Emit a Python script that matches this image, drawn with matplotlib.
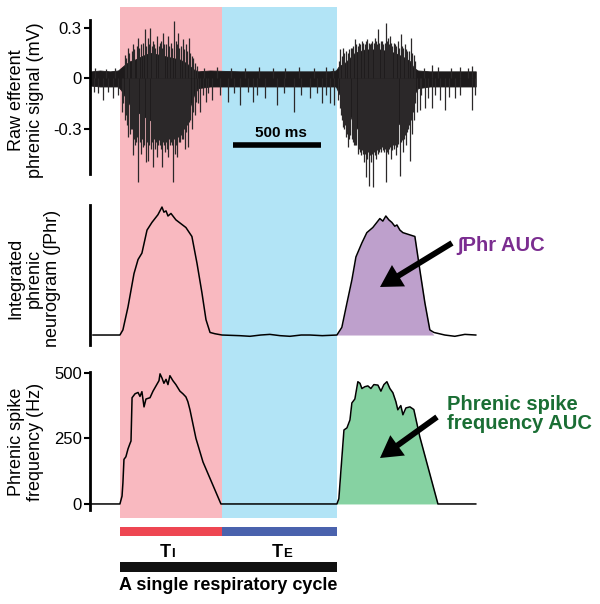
import matplotlib.pyplot as plt

plt.rcParams['font.family'] = ['Liberation Sans', 'DejaVu Sans']

# phases (ms)
insp_start = 170
insp_end = 750
exp_end = 1403
t_max = 2841

# integrated phrenic neurogram (arbitrary units)
int_t = [17, 170, 187, 216, 250, 273, 295, 324, 352, 386, 409, 420, 432, 443, 460, 488,
         545, 579, 608, 636, 659, 682, 710, 750, 850, 909, 970, 1022, 1080, 1136, 1200,
         1250, 1320, 1403, 1431, 1460, 1488, 1511, 1545, 1573, 1607, 1647, 1664, 1681,
         1698, 1715, 1732, 1744, 1761, 1778, 1846, 1874, 1903, 1931, 1954, 2016, 2073,
         2130, 2192]
int_v = [0.0, 0.0, 0.04, 0.22, 0.48, 0.59, 0.64, 0.82, 0.88, 0.94, 1.0, 0.96, 0.97,
         0.93, 0.95, 0.90, 0.84, 0.77, 0.56, 0.33, 0.12, 0.02, 0.01, 0.0, -0.005, -0.01,
         0.0, 0.005, -0.005, -0.01, 0.0, 0.0, -0.005, 0.0, 0.06, 0.25, 0.43, 0.61, 0.72,
         0.80, 0.84, 0.91, 0.89, 0.93, 0.90, 0.88, 0.85, 0.86, 0.82, 0.80, 0.77, 0.51,
         0.25, 0.04, 0.02, 0.0, -0.01, 0.005, 0.0]
int_fill_end = 1940

# phrenic spike frequency (Hz)
freq_t = [6, 170, 182, 187, 193, 204, 216, 227, 233, 239, 256, 273, 284, 295, 307, 318,
          341, 358, 375, 392, 398, 409, 420, 432, 443, 454, 471, 488, 511, 528, 545, 556,
          568, 602, 642, 744, 1403, 1414, 1426, 1443, 1460, 1477, 1488, 1505, 1522, 1534,
          1545, 1562, 1579, 1596, 1613, 1636, 1653, 1670, 1687, 1704, 1721, 1738, 1749,
          1766, 1778, 1795, 1818, 1840, 1874, 1977, 2192]
freq_v = [0, 0, 30, 80, 170, 180, 210, 230, 240, 405, 420, 425, 410, 428, 370, 400,
          405, 430, 450, 470, 496, 480, 460, 475, 455, 489, 470, 455, 430, 420, 408, 390,
          359, 250, 160, 0, 0, 20, 130, 282, 290, 320, 385, 400, 466, 460,
          440, 447, 450, 440, 455, 453, 430, 455, 466, 440, 424, 390, 359,
          375, 340, 366, 370, 360, 256, 0, 0]
freq_fill_end = 1977

# raw signal: envelope of the dense trace (mV)
raw_t = [6, 57, 114, 159, 176, 199, 227, 256, 295, 341, 386, 426, 466, 511, 545, 568,
         591, 613, 682, 852, 1022, 1193, 1363, 1397, 1414, 1448, 1477, 1505, 1562, 1647,
         1732, 1789, 1818, 1840, 1863, 1931, 2045, 2192]
raw_hi = [0.04, 0.045, 0.04, 0.045, 0.06, 0.08, 0.10, 0.11, 0.13, 0.15, 0.14, 0.13,
          0.12, 0.11, 0.09, 0.07, 0.05, 0.04, 0.045, 0.04, 0.04, 0.04, 0.04, 0.045,
          0.07, 0.09, 0.12, 0.15, 0.17, 0.17, 0.15, 0.12, 0.10, 0.06, 0.045, 0.04, 0.04,
          0.04]
raw_lo = [-0.045, -0.05, -0.05, -0.05, -0.07, -0.11, -0.16, -0.19, -0.22, -0.25, -0.26,
          -0.27, -0.28, -0.27, -0.22, -0.17, -0.10, -0.06, -0.05, -0.05, -0.05, -0.05,
          -0.05, -0.05, -0.09, -0.15, -0.22, -0.29, -0.33, -0.33, -0.30, -0.23, -0.17,
          -0.10, -0.06, -0.05, -0.05, -0.05]

# raw signal: individual spikes above zero (mV)
spike_up_t = [199, 216, 244, 273, 290, 312, 329, 341, 358, 381, 398, 415, 443, 460, 477,
              488, 500, 528, 545, 562, 585, 1420, 1437, 1465, 1488, 1505, 1522, 1545,
              1562, 1573, 1596, 1619, 1636, 1653, 1681, 1693, 1704, 1727, 1749, 1766,
              1789, 1823, 1840, 1943, 2170,
              207, 222, 238, 250, 267, 279, 301, 318, 335, 352, 364, 370, 392, 403, 409,
              420, 432, 449, 466, 494, 505, 517, 534, 551, 568, 579, 596, 608,
              1414, 1431, 1443, 1454, 1471, 1482, 1494, 1511, 1528, 1534, 1551, 1568,
              1585, 1590, 1602, 1613, 1624, 1630, 1641, 1658, 1664, 1675, 1687, 1698,
              1710, 1715, 1732, 1738, 1755, 1772, 1778, 1795, 1801, 1812, 1829, 1846,
              30, 90, 140, 650, 720, 800, 880, 960, 1040, 1110, 1190, 1270, 1340, 1380,
              1900, 1980, 2050, 2100, 2150]
spike_up_v = [0.14, 0.18, 0.20, 0.24, 0.20, 0.29, 0.24, 0.30, 0.22, 0.25, 0.21, 0.27,
              0.25, 0.21, 0.34, 0.22, 0.27, 0.23, 0.20, 0.24, 0.12, 0.17, 0.18, 0.15,
              0.18, 0.23, 0.19, 0.22, 0.20, 0.23, 0.21, 0.24, 0.29, 0.22, 0.33, 0.24,
              0.25, 0.21, 0.22, 0.26, 0.20, 0.24, 0.14, 0.08, 0.07,
              0.12, 0.15, 0.16, 0.17, 0.19, 0.18, 0.21, 0.19, 0.20, 0.19, 0.20, 0.18,
              0.19, 0.22, 0.18, 0.20, 0.20, 0.19, 0.18, 0.20, 0.18, 0.19, 0.17, 0.16,
              0.15, 0.13, 0.09, 0.07,
              0.10, 0.13, 0.15, 0.16, 0.17, 0.18, 0.19, 0.20, 0.21, 0.20, 0.21, 0.22,
              0.21, 0.20, 0.22, 0.21, 0.22, 0.20, 0.21, 0.22, 0.20, 0.21, 0.22, 0.20,
              0.21, 0.19, 0.20, 0.19, 0.18, 0.19, 0.18, 0.17, 0.16, 0.16, 0.15, 0.10,
              0.06, 0.055, 0.06, 0.06, 0.065, 0.06, 0.06, 0.065, 0.06, 0.06, 0.065, 0.06,
              0.065, 0.06, 0.06, 0.065, 0.06, 0.065, 0.06]

# raw signal: individual spikes below zero (mV)
spike_dn_t = [74, 131, 182, 199, 216, 233, 244, 261, 273, 290, 301, 318, 329, 346, 358,
              381, 398, 409, 426, 443, 454, 471, 482, 494, 511, 528, 539, 556, 579, 596,
              613, 625, 659, 693, 784, 852, 926, 994, 1062, 1159, 1250, 1318, 1363, 1386,
              1408, 1426, 1437, 1454, 1465, 1488, 1505, 1522, 1539, 1556, 1568, 1585,
              1596, 1607, 1624, 1641, 1664, 1681, 1693, 1710, 1727, 1738, 1761, 1778,
              1795, 1818, 1829, 1840, 1857, 1874, 1903, 1943, 1988, 2016, 2073, 2170,
              187, 205, 210, 227, 239, 250, 256, 267, 284, 295, 307, 324, 335, 352, 364,
              369, 375, 386, 392, 403, 415, 420, 432, 437, 449, 460, 466, 477, 488, 500,
              505, 517, 522, 534, 545, 551, 562, 568, 585, 602,
              1420, 1431, 1443, 1448, 1460, 1471, 1477, 1494, 1499, 1511, 1528, 1534,
              1545, 1551, 1562, 1573, 1579, 1590, 1602, 1613, 1619, 1630, 1636, 1647,
              1653, 1658, 1670, 1675, 1687, 1698, 1704, 1715, 1721, 1732, 1744, 1749,
              1766, 1772, 1784, 1789, 1801, 1806, 1812, 1823, 1835, 1846,
              20, 45, 100, 160, 640, 670, 740, 820, 900, 950, 1100, 1200, 1290, 1340,
              1880, 1920, 1960, 2040, 2100, 2190]
spike_dn_v = [-0.13, -0.12, -0.20, -0.25, -0.35, -0.30, -0.46, -0.38, -0.62, -0.45,
              -0.41, -0.50, -0.49, -0.42, -0.53, -0.47, -0.40, -0.53, -0.44, -0.47,
              -0.40, -0.62, -0.45, -0.47, -0.38, -0.36, -0.42, -0.41, -0.30, -0.22,
              -0.15, -0.20, -0.14, -0.13, -0.14, -0.16, -0.14, -0.12, -0.16, -0.20,
              -0.12, -0.15, -0.15, -0.16, -0.13, -0.22, -0.29, -0.35, -0.41, -0.36,
              -0.40, -0.45, -0.46, -0.50, -0.59, -0.64, -0.50, -0.65, -0.48, -0.44,
              -0.43, -0.62, -0.45, -0.48, -0.42, -0.46, -0.58, -0.44, -0.40, -0.49,
              -0.33, -0.25, -0.20, -0.19, -0.18, -0.18, -0.13, -0.19, -0.12, -0.19,
              -0.15, -0.22, -0.28, -0.33, -0.30, -0.36, -0.40, -0.35, -0.38, -0.36,
              -0.40, -0.38, -0.40, -0.38, -0.36, -0.42, -0.38, -0.40, -0.37, -0.42,
              -0.38, -0.40, -0.38, -0.42, -0.36, -0.38, -0.40, -0.36, -0.40, -0.35,
              -0.38, -0.34, -0.36, -0.30, -0.32, -0.28, -0.26, -0.25, -0.20, -0.14,
              -0.18, -0.25, -0.30, -0.28, -0.33, -0.36, -0.34, -0.38, -0.40, -0.40,
              -0.42, -0.44, -0.43, -0.45, -0.45, -0.48, -0.44, -0.46, -0.45, -0.44,
              -0.46, -0.43, -0.45, -0.42, -0.44, -0.41, -0.44, -0.42, -0.44, -0.42,
              -0.41, -0.43, -0.40, -0.40, -0.41, -0.39, -0.38, -0.37, -0.36, -0.34,
              -0.32, -0.30, -0.28, -0.25, -0.20, -0.15,
              -0.08, -0.09, -0.08, -0.10, -0.10, -0.09, -0.10, -0.09, -0.08, -0.10,
              -0.09, -0.10, -0.09, -0.10, -0.10, -0.12, -0.10, -0.11, -0.10, -0.10]

scale_bar_start = 812
scale_bar_len = 500

pink = '#f9b9c0'
light_blue = '#b2e4f6'
red_bar = '#ee4652'
blue_bar = '#4a62ad'
purple_fill = '#bea0cc'
purple_text = '#7b2d90'
green_fill = '#86d2a2'
green_text = '#1a6e34'
trace_dark = '#1d1a1b'

W, H = 600, 604
fig = plt.figure(figsize=(6, 6.04), dpi=100)


def px(x, y):
    return x / W, 1 - y / H


def box(x0, y0, x1, y1):
    return [x0 / W, 1 - y1 / H, (x1 - x0) / W, (y1 - y0) / H]


# background: phase shading and bars, x in ms, y in pixels
ms_per_px = t_max / 500
bg = fig.add_axes([0, 0, 1, 1])
bg.set_xlim(-90 * ms_per_px, 510 * ms_per_px)
bg.set_ylim(H, 0)
bg.axis('off')
bg.fill_between([insp_start, insp_end], 7, 518, color=pink, lw=0)
bg.fill_between([insp_end, exp_end], 7, 518, color=light_blue, lw=0)
bg.barh(531.5, insp_end - insp_start, left=insp_start, height=9, color=red_bar)
bg.barh(531.5, exp_end - insp_end, left=insp_end, height=9, color=blue_bar)
bg.barh(567, exp_end - insp_start, left=insp_start, height=10, color='#111111')
bg.text(insp_start + (insp_end - insp_start) / 2, 557, 'T', ha='right', va='baseline',
        fontsize=13, fontweight='bold')
bg.text(insp_start + (insp_end - insp_start) / 2, 557, 'I', ha='left', va='baseline',
        fontsize=9.5, fontweight='bold')
bg.text(insp_end + (exp_end - insp_end) / 2 + 20, 557, 'T', ha='right', va='baseline',
        fontsize=13, fontweight='bold')
bg.text(insp_end + (exp_end - insp_end) / 2 + 20, 557, 'E', ha='left', va='baseline',
        fontsize=9.5, fontweight='bold')
bg.text((insp_start + exp_end) / 2, 586, 'A single respiratory cycle', ha='center',
        va='center', fontsize=13, fontweight='bold')


def style_axis(ax):
    ax.set_facecolor('none')
    ax.set_xlim(0, t_max)
    for s in ['top', 'right', 'bottom']:
        ax.spines[s].set_visible(False)
    ax.spines['left'].set_linewidth(2)
    ax.set_xticks([])
    ax.tick_params(axis='y', direction='out', length=4, width=1.5, labelsize=12, pad=2)


# raw signal
ax1 = fig.add_axes(box(90, 20, 590, 174))
style_axis(ax1)
ax1.set_ylim(-0.570, 0.345)
ax1.fill_between(raw_t, raw_lo, raw_hi, color=trace_dark, lw=0.6, ec=trace_dark,
                 clip_on=False)
ax1.vlines(spike_up_t, 0, spike_up_v, color='#2b2829', lw=0.9, clip_on=False)
ax1.vlines(spike_dn_t, 0, spike_dn_v, color='#2b2829', lw=0.9, clip_on=False)
ax1.set_yticks([-0.3, 0, 0.3])
ax1.set_yticklabels(['-0.3', '0', '0.3'])
ax1.plot([scale_bar_start, scale_bar_start + scale_bar_len], [-0.398, -0.398],
         color='black', lw=4, solid_capstyle='butt')
ax1.text(scale_bar_start + scale_bar_len / 2 + 25, -0.327, '500 ms', ha='center',
         va='center', fontsize=11, fontweight='bold')

# integrated neurogram
ax2 = fig.add_axes(box(90, 205, 590, 345))
style_axis(ax2)
ax2.set_ylim(-0.078, 1.016)
ax2.set_yticks([])
ax2.fill_between(int_t, 0, int_v, where=[exp_end <= t <= int_fill_end for t in int_t],
                 color=purple_fill, lw=0, interpolate=True)
ax2.plot(int_t, int_v, color='black', lw=1.1)

# spike frequency
ax3 = fig.add_axes(box(90, 372, 590, 510))
style_axis(ax3)
ax3.set_ylim(-23, 503)
ax3.set_yticks([0, 250, 500])
ax3.fill_between(freq_t, 0, freq_v, where=[exp_end <= t <= freq_fill_end for t in freq_t],
                 color=green_fill, lw=0)
ax3.plot(freq_t, freq_v, color='black', lw=1.1)

# y labels
lab = dict(rotation=90, ha='center', va='center', multialignment='center', fontsize=13,
           linespacing=1.1)
fig.text(*px(26, 100), 'Raw efferent\nphrenic signal (mV)', **lab)
fig.text(*px(34, 278), 'Integrated\nphrenic\nneurogram (\u222bPhr)', **lab)
fig.text(*px(26, 442), 'Phrenic spike\nfrequency (Hz)', **lab)

# overlay for arrows and AUC labels, same coordinates as the background
ov = fig.add_axes([0, 0, 1, 1])
ov.set_xlim(bg.get_xlim())
ov.set_ylim(H, 0)
ov.axis('off')
arrow = dict(arrowstyle='simple,head_length=1.3,head_width=1.5,tail_width=0.35',
             mutation_scale=12, color='black', lw=0, shrinkA=0, shrinkB=0)
ov.annotate('', xy=((380 - 90) * ms_per_px, 287), xytext=((452 - 90) * ms_per_px, 243),
            arrowprops=arrow)
ov.annotate('', xy=((380 - 90) * ms_per_px, 458), xytext=((437 - 90) * ms_per_px, 417),
            arrowprops=arrow)
ov.text((457 - 90) * ms_per_px, 245, '\u222bPhr AUC', ha='left', va='center',
        fontsize=14.5, fontweight='bold', color=purple_text)
ov.text((447 - 90) * ms_per_px, 414, 'Phrenic spike\nfrequency AUC', ha='left',
        va='center', fontsize=14.5, fontweight='bold', color=green_text, linespacing=1.05)

fig.savefig('out.png', dpi=100)
